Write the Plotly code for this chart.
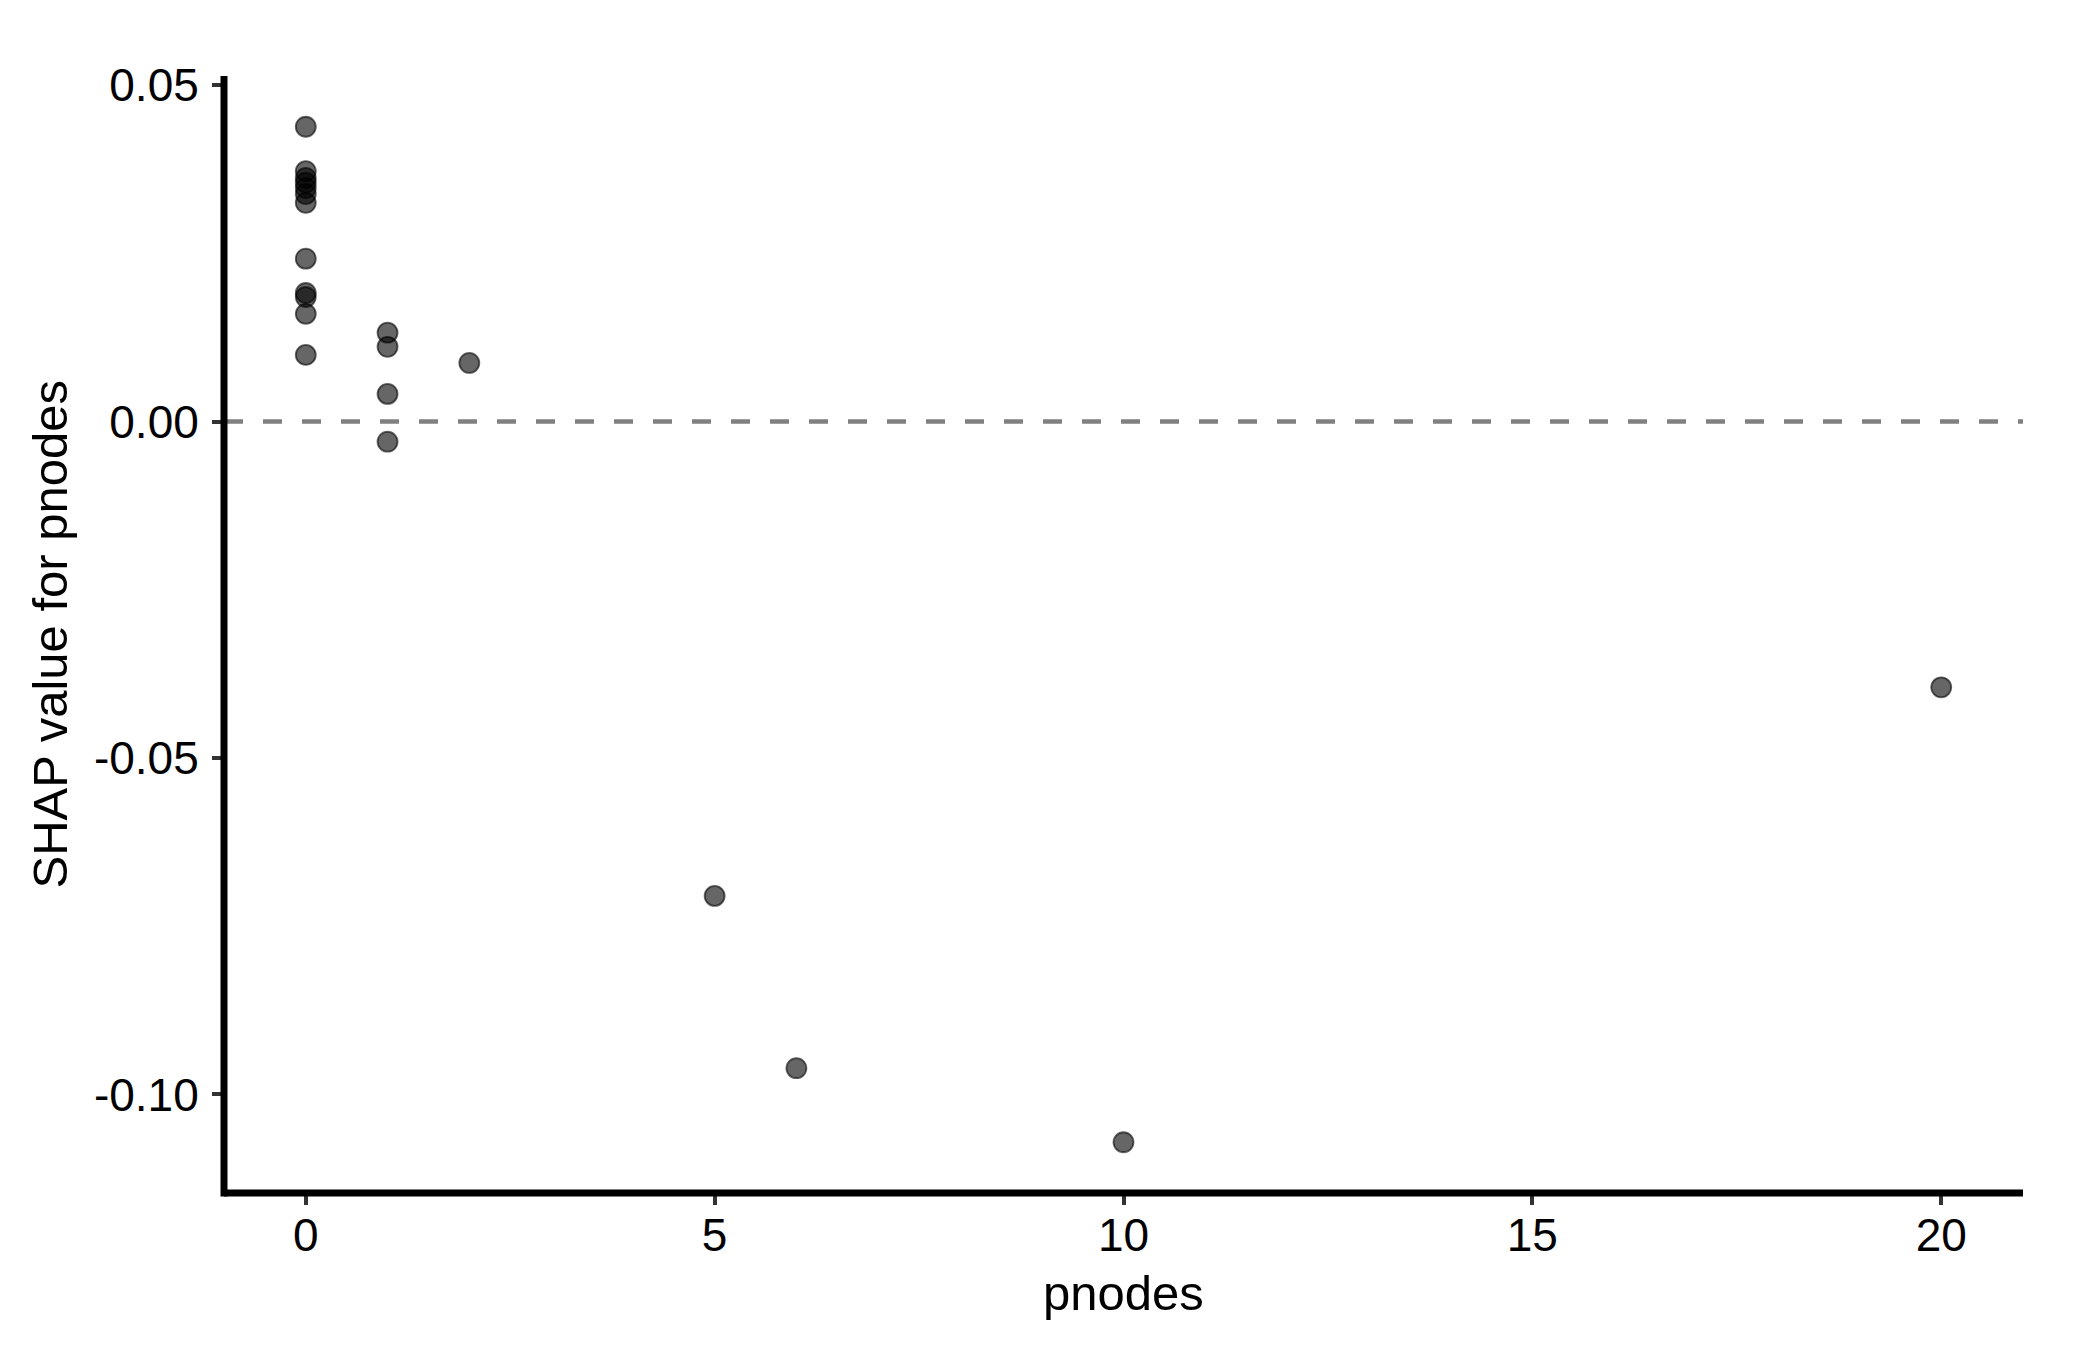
import plotly.graph_objects as go

# Data
pnodes = [0, 0, 0, 0, 0, 0, 0, 0, 0, 0, 0, 0,
          1, 1, 1, 1,
          2,
          5, 6, 10, 20]
shap_values = [0.0438, 0.0372, 0.0362, 0.0355, 0.0347, 0.0338, 0.0325, 0.0242, 0.0191, 0.0185, 0.0160, 0.0099,
               0.0132, 0.0111, 0.0041, -0.0030,
               0.0087,
               -0.0705, -0.0961, -0.1071, -0.0395]

x_ticks = [0, 5, 10, 15, 20]
y_ticks = [-0.10, -0.05, 0.00, 0.05]
y_tick_labels = ["-0.10", "-0.05", "0.00", "0.05"]

x_title = "pnodes"
y_title = "SHAP value for pnodes"

# ggplot-like 5% expansion of the data range
def expand(vals, frac=0.05):
    lo, hi = min(vals), max(vals)
    d = (hi - lo) * frac
    return [lo - d, hi + d]

x_range = expand(pnodes)
y_range = expand(shap_values)

font_family = "Liberation Sans, Arial, Helvetica, sans-serif"

W, H = 2100, 1350
M = dict(l=216, r=85, t=68, b=165)
plot_w = W - M["l"] - M["r"]
plot_h = H - M["t"] - M["b"]
axis_lw = 7

fig = go.Figure()
fig.add_trace(go.Scatter(
    x=pnodes, y=shap_values, mode="markers",
    marker=dict(size=20, color="rgba(0,0,0,0.6)",
                line=dict(color="rgba(0,0,0,0.6)", width=1.8)),
    showlegend=False, hoverinfo="x+y",
))

# zero reference line
fig.add_shape(type="line", xref="paper", x0=0, x1=1, yref="y", y0=0, y1=0,
              line=dict(color="#808080", width=4.5, dash="19px,20px"), layer="below")

# ggplot-style axis lines centred on the panel edges
ext_y = (axis_lw / 2) / plot_h
fig.add_shape(type="line", xref="paper", yref="paper", x0=0, x1=0, y0=-ext_y, y1=1,
              line=dict(color="black", width=axis_lw), layer="above")
fig.add_shape(type="line", xref="paper", yref="paper", x0=0, x1=1, y0=0, y1=0,
              line=dict(color="black", width=axis_lw), layer="above")

axis_common = dict(
    showgrid=False, zeroline=False, showline=False,
    ticks="outside", ticklen=11, tickwidth=4, tickcolor="#333333",
    tickfont=dict(family=font_family, size=46, color="black"),
)

fig.update_xaxes(range=x_range, tickvals=x_ticks, ticklabelstandoff=-9, **axis_common)
fig.update_yaxes(range=y_range, tickvals=y_ticks, ticktext=y_tick_labels,
                 ticklabelstandoff=4, **axis_common)

fig.add_annotation(text=x_title, xref="paper", yref="paper", x=0.5, y=0,
                   xanchor="center", yanchor="middle", yshift=-100, showarrow=False,
                   font=dict(family=font_family, size=49, color="black"))
fig.add_annotation(text=y_title, xref="paper", yref="paper", x=0, y=0.5,
                   xanchor="center", yanchor="middle", xshift=-175, textangle=-90,
                   showarrow=False,
                   font=dict(family=font_family, size=49, color="black"))

fig.update_layout(
    width=W, height=H,
    margin=M,
    plot_bgcolor="white", paper_bgcolor="white",
    font=dict(family=font_family, size=46, color="black"),
)

fig.write_html("out.html")
